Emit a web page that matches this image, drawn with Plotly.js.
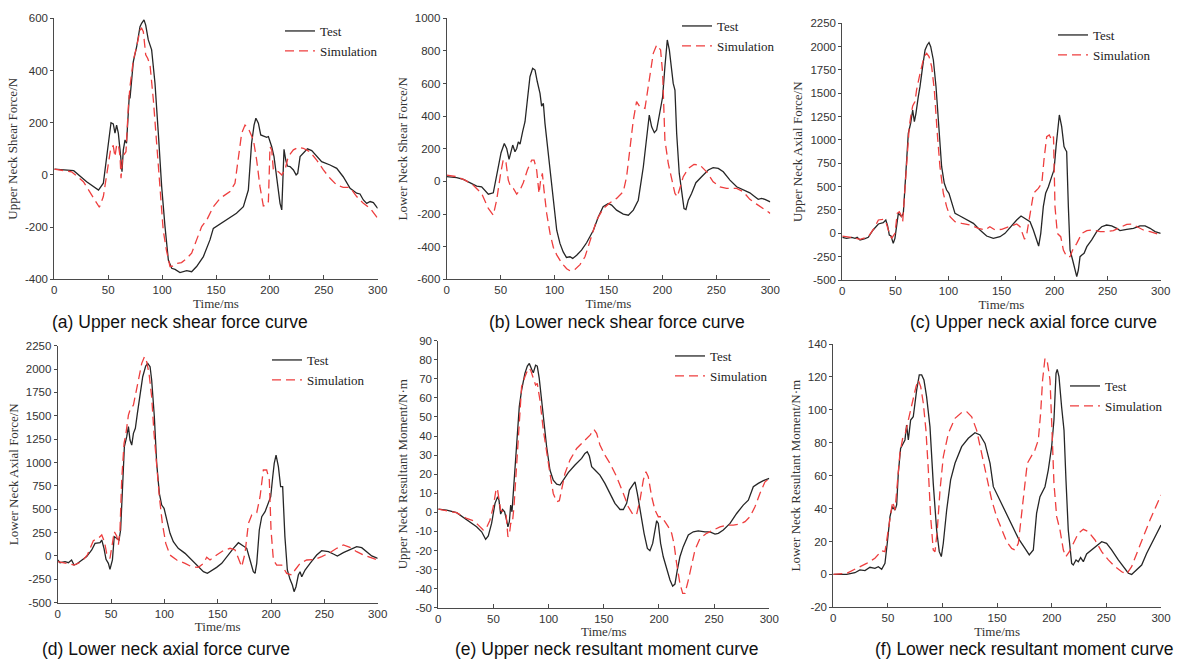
<!DOCTYPE html>
<html>
<head>
<meta charset="utf-8">
<script src="https://cdn.plot.ly/plotly-3.0.1.min.js"></script>
<style>
  html, body { margin: 0; padding: 0; background: #ffffff; }
  #chart { width: 1179px; height: 659px; }
</style>
</head>
<body>
<div id="chart"></div>
<script>
// ---- Time axis (shared by all panels) ----
const timeTicks = [0, 50, 100, 150, 200, 250, 300];
const timeTickText = ['0', '50', '100', '150', '200', '250', '300'];

// ---- (a) Upper neck shear force, N ----
const aTestT = [0,18,30,41,45.5, 48.6,52.6,54.7,56.3,57.8, 59.4,61.6,62.8,64,65.6, 67,68.7,69.6,70.2,73.3, 76.4,79.5,81,83.2,84.8, 87.2,90.3,93.4,96.5,99.6, 102.7,105.8,108.9,112,116.6, 122.8,127.4,132,138.3,144.4, 147.5,150,160,169,175.4, 180,183,185.3,187,189.3, 191.5,194.6,197,198.6,201.7, 203.8,206.3,209.4,211,211.9, 213.1,214.7,216.2,218.7,221.8, 224.3,225.8,228,231,234.8, 238.8,243.4,248,255.8,262, 268,274.4,280.5,283.6,286.7, 289.8,293,296,300];
const aTestV = [22,16,-26,-58,-32, 70,200,195,160,191, 160,70,12,95,134, 121,249,306,293,434, 491,568,581,594,574, 517,479,351,159,-45, -198,-326,-358,-362,-374, -367,-371,-351,-313,-249, -205,-198,-170,-147,-122, -58,121,191,217,198, 153,147,144,147,108, 70,-19,-109,-134,-19, 98,57,34,32,19, 0,6,70,83,100, 93,70,51,38,25, -7,-51,-70,-73,-96, -109,-102,-106,-128];
const aSimT = [0,16,27,36,41.8, 45.5,50,52.6,54.7,56.3, 57.8,59.4,61,61.9,63.4, 65,66.5,68.7,70.2,73.3, 76.4,79.5,81,82.6,84.8, 86.6,88.8,91.9,95,98, 101,104,107.3,110.4,113.5, 118,122.8,127.4,132,136.7, 141.4,147.5,153.7,163,167.6, 170.7,173.8,176.9,180,184.7, 187.7,190.8,193.9,197,198.6, 200.1,201.7,203.2,208,211, 214,217,221.8,226.5,231, 237,243.4,249.6,255.8,262, 268,274.4,280.5,286.7,293, 300];
const aSimV = [22,12,-26,-83,-124, -83,32,108,111,70, 114,118,70,-13,70, 83,89,262,338,440, 491,555,562,549,460, 447,421,287,134,-45, -211,-288,-351,-349,-339, -336,-320,-300,-249,-198, -173,-122,-90,-64,-32, 57,159,191,178,134, 57,-45,-119,-115,-102, 108,96,19,12,0, 19,70,96,106,102, 89,57,19,-13,-39, -48,-48,-83,-109,-128, -166];
const aTicks = [-400, -200, 0, 200, 400, 600];
const aTickText = ['-400', '-200', '0', '200', '400', '600'];

// ---- (b) Lower neck shear force, N ----
const bTestT = [0,9.3,15.4,21.6,27.8, 32.4,38.6,43.2,46.3,50.4, 53.4,55.6,57.8,59.3,61.2, 63.3,64.9,66.4,68,70.4, 72.6,74.8,77.2,79.7,81.9, 84,86.5,88,89.6,91.1, 94.2,97.3,99.5,102,105, 108,111,114.3,116.8,120.5, 125,129.7,136,140.6,145, 149.8,152.9,157.5,163.7,168.4, 173,177.6,182.3,185.4,187.8, 190,192.5,194.6,197.7,200.2, 202.3,204.5,206.4,208.5,210, 211.6,213.2,215.6,217.8,220, 221.8,224,227,231,236.3, 242.5,247,251.8,256.4,262.6, 268.8,275,281,285.7,288.8, 292,295,300];
const bTestV = [29,23,12,-8,-29, -33,-78,-70,29,176, 233,202,135,168,223, 182,202,243,229,305, 366,499,642,693,683, 611,540,462,479,356, 172,8,-115,-299,-380, -432,-466,-462,-472,-452, -421,-376,-299,-217,-155, -135,-145,-176,-200,-207, -176,-115,90,294,407, 335,299,315,417,519, 703,867,806,663,601, 560,294,49,-74,-166, -172,-115,-74,-8,29, 70,84,80,59,8, -33,-53,-70,-94,-110, -104,-110,-125];
const bSimT = [0,9.3,17,24.7,32.4, 38.6,43.2,46.3,50,52.5, 55,57.1,59.3,61.8,64.9, 68,71,74.8,78.8,81, 83.4,85.6,87.1,88.7,90.2, 92.7,95.8,98.9,102,106.6, 111.2,114.3,118.9,123.6,128.2, 132.8,139,145.2,151.4,157.5, 163.7,166.8,170,173,176, 179,183.8,186.9,191.5,194.6, 198.3,200.2,202.3,205.4,208.5, 211.6,213.8,216.2,219.3,224, 229.2,234.8,241,247,253.3, 259.5,268.8,275,281,287.3, 293.5,300];
const bSimV = [39,29,8,-23,-74, -166,-207,-115,49,135, 115,8,-33,-43,-78, -53,-8,70,131,131, 70,-74,8,49,-53, -196,-319,-405,-450,-500, -535,-548,-540,-510,-462, -360,-237,-166,-131,-104, -63,29,213,376,489, 458,448,581,785,836, 806,663,254,110,8, -74,-94,-33,29,80, 104,100,59,-2,-33, -43,-43,-63,-110,-139, -166,-196];
const bTicks = [-600, -400, -200, 0, 200, 400, 600, 800, 1000];
const bTickText = ['-600', '-400', '-200', '0', '200', '400', '600', '800', '1000'];

// ---- (c) Upper neck axial force, N ----
const cTestT = [0,4,8.8,12,14, 16.7,21.4,24.5,29,34, 38.6,41,42.7,44.3,45.9, 48,49.6,51.2,52.8,54.4, 55.9,57.5,59,60.6,62.2, 64.4,66.3,67.9,69.4,71.6, 73.2,75.7,78,80,81.7, 83.3,85.8,88.3,91.4,93.6, 96.1,98.3,100.5,103,106.2, 110.9,117.2,123.5,129.7,136, 142.3,148.6,153.3,159.6,164.3, 168.4,172.2,176.9,180,183.2, 185,187,189.4,191.6,194.2, 197.3,199.5,201.4,203,204.5, 206.7,208.9,210.5,211.4,213, 214.6,217,219.3,220.9,222.4, 224,225.7,227.8,230.4,235, 239.7,244.4,249,253.8,258.6, 261.6,268,274.3,280.5,285.3, 290,294.7,300];
const cTestV = [-43,-54,-43,-54,-43, -71,-57,-43,36,100, 114,143,79,-18,-29, -107,-54,71,214,196, 179,214,500,857,1071, 1179,1321,1196,1286,1464, 1571,1786,1964,2018,2043, 2000,1857,1571,1000,714, 536,464,429,321,214, 186,143,107,36,-29, -54,-36,0,89,143, 186,161,125,36,-89, -136,0,286,429,500, 607,679,929,1143,1268, 1143,929,893,875,286, -179,-286,-393,-464,-393, -250,-232,-214,-143,-71, 18,71,89,79,54, 29,43,54,79,79, 54,18,0];
const cSimT = [0,8.8,16.7,24.5,29.9, 34,38.6,41,43.4,46.5, 49.6,51.8,53.7,55.3,56.9, 59,61.2,63.1,64.7,66.3, 68.5,70,72.6,74.8,77, 79.5,81.7,84.2,86.7,89.5, 92,95.2,98.3,101.5,106.2, 112.5,120.3,128.2,134.5,139, 143.9,150.2,158,164.3,167.5, 171.7,173.9,177,180.2,184.7, 188,190,192.6,195,197.3, 199,200.4,202.6,205.8,208.3, 211.4,214.6,217,220.9,225.7, 230.4,236.6,243,249,255.4, 261.6,268,272.7,277.4,283.6, 290,300];
const cSimV = [-29,-43,-64,-36,54, 143,150,125,36,-54, 0,214,232,196,125, 482,929,1143,1268,1364, 1411,1536,1679,1786,1893, 1929,1893,1786,1536,1071, 714,429,286,179,125, 107,89,54,36,71, 36,43,79,100,71, -64,0,214,429,482, 536,786,1036,1054,1000, 1036,286,0,-36,-179, -250,-250,-179,-107,0, 29,36,18,18,29, 64,96,100,71,36, 18,-18];
const axialTicks = [-500, -250, 0, 250, 500, 750, 1000, 1250, 1500, 1750, 2000, 2250];
const axialTickText = ['-500', '-250', '0', '250', '500', '750', '1000', '1250', '1500', '1750', '2000', '2250'];

// ---- (d) Lower neck axial force, N ----
const dTestT = [0,2.2,6.9,10,13, 15.3,17.8,22.5,27.2,31.9, 35,39.7,41.3,43.4,45.3, 47.5,49,51.3,53,55.3, 57.5,59,61,62.5,64.7, 66.3,67.8,69.4,71,72.8, 74.7,77.2,79.7,82.5,84.4, 86.6,88.1,90.6,92.8,95.3, 97.5,99.7,102.2,105.3,108.4, 113,119.4,125.6,132,136.6, 140.3,144.4,149,153.8,158.4, 164.7,169.4,174,177.2,180.3, 183.4,185,186.6,189,191.3, 194.4,197.5,199.7,201.6,203, 204.7,206.9,209,210.9,213, 215.3,217.8,220,221.6,223.4, 225.6,227.2,228.8,231.9,236.6, 242.8,247.5,253.8,258.4,262.2, 267.8,274,280.3,285,289.7, 294.4,300];
const dTestV = [-43,-72,-61,-72,-43, -97,-86,-50,-7,64, 135,142,171,82,-36, -79,-143,-43,207,189, 171,278,813,1169,1276, 1384,1241,1187,1312,1366, 1526,1740,1918,2032,2061, 2025,1883,1490,991,670, 545,510,385,242,153, 82,28,-43,-122,-168, -186,-157,-122,-79,-7, 82,142,107,82,-43, -168,-186,-79,278,420, 474,563,634,848,991, 1080,955,741,741,207, -150,-250,-311,-382,-329, -204,-168,-222,-150,-79, 10,57,46,21,0, 36,64,100,89,46, 0,-25];
const dSimT = [0,8.4,15.3,22.5,27.8, 33.4,38,41.3,43.8,45.9, 49,51.3,53,55.3,56.9, 58.4,60,62.2,64,66.3, 67.8,71,73.4,76.6,78.8, 81.3,83.4,85.6,88.1,90.3, 92.8,95.3,98.1,101.3,105.3, 111.6,119.4,125.6,132,136.6, 139.7,142.8,149,155.3,161.6, 166.3,169.4,172.5,175.6,178.8, 181.9,186.6,189.7,192.8,195.9, 198.4,200,202.2,205.3,210, 214.7,219.4,222.5,227.2,233.4, 241.3,247.5,255.3,261.6,267.8, 274,280.3,286.6,292.8,300];
const dSimV = [-60,-79,-97,-61,11, 164,189,225,153,28, -25,135,260,214,118, 278,813,1205,1312,1508, 1562,1615,1758,1918,2061, 2132,2079,1954,1704,1312, 920,635,349,135,10, -43,-79,-115,-122,-79, -14,-43,10,57,82, 64,-25,-115,28,349, 438,463,634,920,920, 813,278,-43,-97,-97, -186,-204,-150,-79,-43, -36,-7,36,82,118, 93,46,11,-14,-43];

// ---- (e) Upper neck resultant moment, N·m ----
const eTestT = [0,7.6,16.6,25.7,34.7, 39.3,42.9,45.3,48.3,51.4, 53.8,55,56.5,58.3,60.1, 61.9,63.1,64.4,65.6,66.8, 68.6,71,73.4,75.5,78.5, 80.7,82.5,84.6,86.1,88.2, 89.7,91.5,93.7,95.8,98.2, 101.2,104.2,107.3,110.3,113.3, 117.8,123.9,129.9,132.9,135, 136.9,139,142,146.5,151, 155.6,160.1,164.7,167.7,170.7, 173.2,176.2,178.3,180.4,183.4, 186.5,189.5,191.8,194.3,196.4, 197.9,199.4,201.5,203.9,207, 210,212.4,214.5,216.6,219, 222,226.6,231.1,235.6,241.7, 246.2,250.8,253.8,258.3,264.4, 270.4,276.4,281,285.5,290, 294.6,300];
const eTestV = [1.7,1.2,-0.2,-3.7,-7.6, -10.2,-14.2,-12.4,-5.8,4.7, 8.2,6.4,-0.9,1.5,0.3, -4.1,-7.6,-4.9,3.8,0.3, 16.9,37.9,55.4,64.1,72.9, 76.7,78.1,75,73.2,77.2, 76.7,70.2,58.9,44.9,34.4, 22.2,16.9,14.8,14.3,16.9, 20.8,24.8,28.3,30.9,31.8, 29.5,23.9,22.2,19.5,15.2, 9.9,4.7,1.5,1.5,4.7, 11.7,14.3,16,9.9,-0.6, -11,-18.9,-20.1,-16.3,-9.3, -4.4,-5.8,-16.3,-23.3,-30.3, -35.5,-38.7,-37.6,-30.3,-23.3, -18,-11.9,-10.2,-9.7,-10.2, -10.2,-11.4,-11,-9.3,-5.8, -0.6,3.8,6.4,13.4,15.2, 16.6,17.8];
const eSimT = [0,16.6,25.7,31.7,36.3, 40.8,43.8,46.8,49.8,52.3, 53.5,55,56.5,58.9,61.3, 63.1,64.4,65.6,67.1,68.6, 71,73.4,75.5,78.5,81.6, 83.7,86.1,88.2,89.7,92.1, 95.2,98.2,101.2,104.2,107.3, 109.7,111.8,114.8,119.3,125.4, 131.4,137.5,141.1,143.5,146.5, 151,155.6,161.6,167.7,172.2, 176.7,179.8,182.8,185.8,188.2, 190.3,193.4,196.4,199.4,202.4, 205.4,208.5,211.5,213.6,216, 219,221.5,223.6,226.6,229.6, 232.6,237.2,243.2,249.2,255.3, 261.3,267.4,273.4,278,282.5, 287,291.5,296.1,300];
const eSimV = [1.7,-0.2,-3.2,-4.4,-6.7, -9.3,-7.9,-4.1,2.9,11.7, 12.6,6.4,1.2,0.3,-0.2, -12.8,-11.9,-5.8,-5.8,2.9, 25.7,50.1,65.9,71.1,75.5, 74.6,70.2,66.7,67.6,58.9, 43.1,30.9,20.4,9.9,5.6, 6.1,11.7,20.4,27.4,33.5, 37,40.5,43.5,41.4,35.3, 30,25.7,18.7,9.9,2.9, -1.4,-0.9,6.4,16.9,21.3, 18.7,8.2,1.2,-2.3,-2.3, -4.9,-7.6,-11,-16.3,-26.8, -37.3,-42.5,-42.5,-35.5,-26.8, -19.8,-13.7,-11,-9.3,-7.6, -6.7,-6.7,-6.2,-4.9,-2.3, 2.9,9.9,16,17.8];
const eTicks = [-50, -40, -30, -20, -10, 0, 10, 20, 30, 40, 50, 60, 70, 80, 90];
const eTickText = ['-50', '-40', '-30', '-20', '-10', '0', '10', '20', '30', '40', '50', '60', '70', '80', '90'];

// ---- (f) Lower neck resultant moment, N·m ----
const fTestT = [0,12.2,19.8,24.4,29, 33.6,38.1,41.2,44.3,47.3, 49.4,51.9,54,56.5,58, 59.5,61.6,64.1,65.6,67.1, 68.7,70.8,73.2,76.3,78.7, 80.9,83,85.4,88.5,91.5, 94.6,97,98.9,100.7,103.8, 107.4,111.4,117.5,123.6,129.7, 134.3,138.9,143.5,146.5,152.6, 158.7,164.8,169.4,175.5,179.4, 183.1,186.1,189.2,193.8,196.8, 199.9,202,203.9,205,206.6, 209,211.2,213,215.1,218.2, 219.7,222.2,224.3,226.4,228.9, 231.9,236.5,241.1,245.7,250.2, 254.8,260.9,265.5,270.1,273.1, 277.7,282.3,286.9,293,300];
const fTestV = [0,0,1,2.7,2.3, 4.3,3.7,4.7,3.1,6.7, 18.9,35.1,41.2,39.1,42.2, 61.4,76.6,79.6,81.7,90.8, 81.7,93.8,95.8,112,121.2, 121.2,118.1,108,89.8,55.3, 27,13.8,10.8,18.9,39.1, 57.4,67.5,77.6,82.7,86.1, 84.7,79.6,67.5,53.3,45.2, 37,29,21.9,15.8,11.8, 14.8,37.1,47.2,53.3,63.4, 77.6,93.8,122.2,124.6,120.2, 101.9,87.7,57.4,27,6.7, 5.7,8.8,7.7,10.2,7.7, 12.4,14.9,17.9,19.9,18.9, 14.9,8.8,4.7,0.7,0, 2.7,5.7,12.8,20.9,30];
const fSimT = [0,12.2,21.4,30.5,38.1, 44.3,47.3,50.4,52.8,54.3, 56.5,58.6,61,63.5,65.9, 68.7,70.8,73.2,75.7,77.8, 80,82.4,84.8,87,89.1, 91.5,93.1,95.2,97.7,100.7, 105.3,111.4,117.5,122.1,126.7, 131.2,135.8,140.4,145,149.5, 154.1,158.7,163.3,166.3,169.4, 172.4,175.5,177.6,180.7,184.6, 187.7,189.8,191.6,193.8,195.9, 198.4,200.2,202,204.5,207.5, 210.6,213,216.1,219.7,224.3, 228.9,233.5,239.6,245.7,251.8, 257.9,264,268.5,273.1,277.7, 283.8,289.9,296,300];
const fSimV = [0,0.6,3.7,6.7,9.8, 14.4,13.8,27,40.2,44.2, 39.1,53.3,73.6,82.7,85.7, 93.8,99.9,106,114.1,118.1, 114.1,104,87.7,63.4,35.1, 14.8,13.8,27,51.3,71.5, 85.7,94.8,98.3,98.9,95.8, 87.7,73.6,57.4,45.2,35.1, 27,19.9,15.8,14.8,18.9, 35.1,55.3,67.5,71.5,75.6, 81.7,97.9,118.1,131.3,129.3, 118.1,87.7,55.3,35.1,27, 14.8,10.8,13.8,18.9,25, 27.4,26,20.9,13.8,8.8, 4.7,1.6,0.2,4.7,12.8, 22.9,33,42.2,48.3];
const fTicks = [-20, 0, 20, 40, 60, 80, 100, 120, 140];
const fTickText = ['-20', '0', '20', '40', '60', '80', '100', '120', '140'];

// ---- Labels ----
const seriesNames = ['Test', 'Simulation'];
const yTitles = [
  'Upper Neck Shear Force/N',
  'Lower Neck Shear Force/N',
  'Upper Neck Axial Force/N',
  'Lower Neck Axial Force/N',
  'Upper Neck Resultant Moment/N\u00B7m',
  'Lower Neck Resultant Moment/N\u00B7m'
];
const captions = [
  '(a) Upper neck shear force curve',
  '(b) Lower neck shear force curve',
  '(c) Upper neck axial force curve',
  '(d) Lower neck axial force curve',
  '(e) Upper neck resultant moment curve',
  '(f) Lower neck resultant moment curve'
];

// ---- Page geometry (pixels) ----
const W = 1179, H = 659;
const panels = [
  { box: [54.3, 18.3, 377.7, 279.3], legend: [285, 33],  caption: [50, 322],
    test: [aTestT, aTestV], sim: [aSimT, aSimV], ticks: [aTicks, aTickText] },
  { box: [446.7, 18.3, 770.3, 279.3], legend: [682, 28], caption: [487, 322],
    test: [bTestT, bTestV], sim: [bSimT, bSimV], ticks: [bTicks, bTickText] },
  { box: [842.3, 23.3, 1160.7, 280], legend: [1058, 37], caption: [908, 322],
    test: [cTestT, cTestV], sim: [cSimT, cSimV], ticks: [axialTicks, axialTickText] },
  { box: [57.7, 345.7, 377.7, 602.7], legend: [272, 362], caption: [40, 649],
    test: [dTestT, dTestV], sim: [dSimT, dSimV], ticks: [axialTicks, axialTickText] },
  { box: [438.3, 340.7, 769.3, 607.7], legend: [675, 358], caption: [453, 649],
    test: [eTestT, eTestV], sim: [eSimT, eSimV], ticks: [eTicks, eTickText] },
  { box: [833.3, 344, 1161, 607.3], legend: [1070, 388], caption: [873, 649],
    test: [fTestT, fTestV], sim: [fSimT, fSimV], ticks: [fTicks, fTickText] }
];

const sansFont = 'Liberation Sans, Arial, sans-serif';
const serifFont = 'Liberation Serif, Times New Roman, serif';
const axisColor = '#4a4a4a';
const testColor = '#262626';
const simColor = '#ee3e3e';

const traces = [];
const layout = {
  width: W, height: H,
  margin: { l: 0, r: 0, t: 0, b: 0 },
  paper_bgcolor: '#ffffff',
  plot_bgcolor: '#ffffff',
  showlegend: true,
  annotations: []
};

panels.forEach((p, i) => {
  const n = i === 0 ? '' : String(i + 1);
  const xKey = 'xaxis' + n, yKey = 'yaxis' + n, legKey = 'legend' + n;
  const [x0, y0, x1, y1] = p.box;

  traces.push({
    type: 'scatter', mode: 'lines', name: seriesNames[0],
    x: p.test[0], y: p.test[1], xaxis: 'x' + n, yaxis: 'y' + n, legend: legKey,
    line: { color: testColor, width: 1.3 }
  });
  traces.push({
    type: 'scatter', mode: 'lines', name: seriesNames[1],
    x: p.sim[0], y: p.sim[1], xaxis: 'x' + n, yaxis: 'y' + n, legend: legKey,
    line: { color: simColor, width: 1.3, dash: '9px,5px' }
  });

  const yTicks = p.ticks[0];
  layout[xKey] = {
    domain: [x0 / W, x1 / W], anchor: 'y' + n,
    range: [0, 300], tickvals: timeTicks, ticktext: timeTickText,
    ticks: 'inside', ticklen: 4, tickcolor: axisColor, tickwidth: 1,
    showline: true, linecolor: axisColor, linewidth: 1,
    showgrid: false, zeroline: false, fixedrange: true,
    tickfont: { family: sansFont, size: 11.5, color: '#333333' },
    title: { text: 'Time/ms', font: { family: serifFont, size: 13, color: '#333333' }, standoff: 3 }
  };
  layout[yKey] = {
    domain: [1 - y1 / H, 1 - y0 / H], anchor: 'x' + n,
    range: [yTicks[0], yTicks[yTicks.length - 1]],
    tickvals: yTicks, ticktext: p.ticks[1],
    ticks: 'outside', ticklen: 3, tickcolor: axisColor, tickwidth: 1,
    showline: true, linecolor: axisColor, linewidth: 1,
    showgrid: false, zeroline: false, fixedrange: true,
    tickfont: { family: sansFont, size: 11.5, color: '#333333' },
    title: { text: yTitles[i], font: { family: serifFont, size: 13, color: '#333333' }, standoff: 4 }
  };
  layout[legKey] = {
    x: (p.legend[0] - 5) / W, y: 1 - (p.legend[1] - 17) / H,
    xanchor: 'left', yanchor: 'top',
    bgcolor: 'rgba(0,0,0,0)', borderwidth: 0,
    font: { family: serifFont, size: 13, color: '#222222' },
    itemwidth: 30, tracegroupgap: 0
  };
  layout.annotations.push({
    xref: 'paper', yref: 'paper',
    x: p.caption[0] / W, y: 1 - p.caption[1] / H,
    xanchor: 'left', yanchor: 'middle', showarrow: false,
    text: captions[i],
    font: { family: sansFont, size: 17.5, color: '#111111' }
  });
});

Plotly.newPlot('chart', traces, layout, { staticPlot: true, displayModeBar: false });
</script>
</body>
</html>
